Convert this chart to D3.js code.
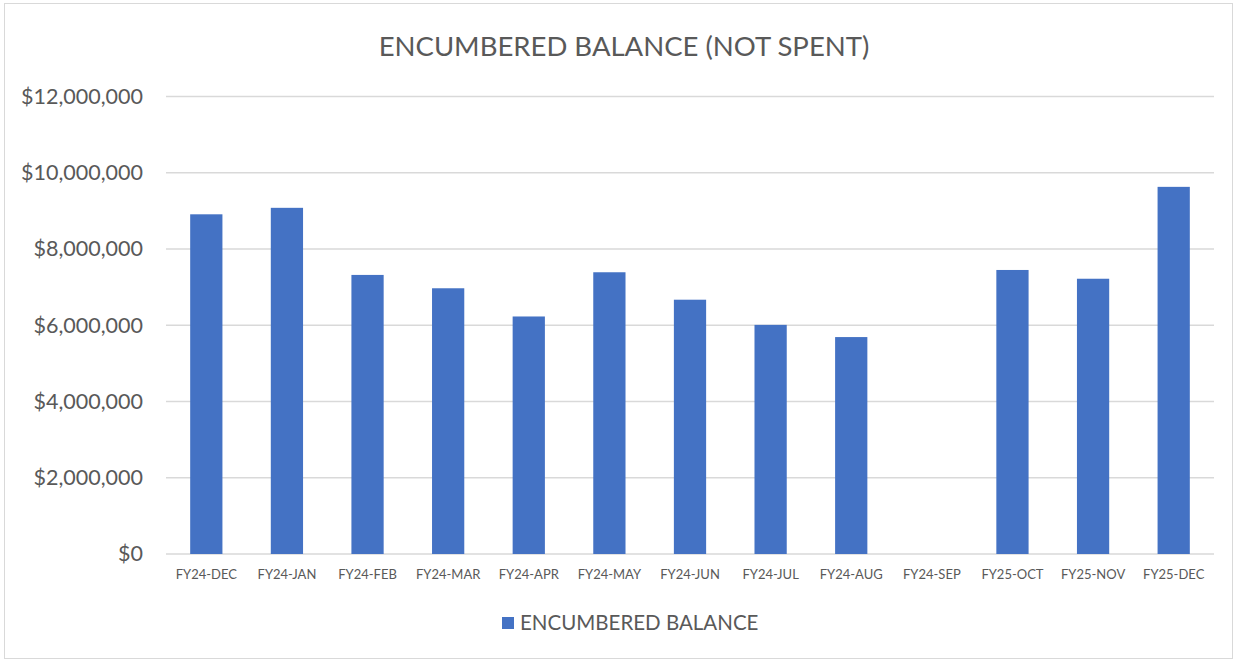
<!DOCTYPE html>
<html>
<head>
<meta charset="utf-8">
<script src="https://cdn.jsdelivr.net/npm/d3@7"></script>
<style>
  html, body { margin: 0; padding: 0; background: #fff; }
  svg { display: block; font-family: Lato, "Open Sans", sans-serif; }
</style>
</head>
<body>
<svg width="1237" height="662"></svg>
<script>
const MONTHS = [
  "FY24-DEC", "FY24-JAN", "FY24-FEB", "FY24-MAR", "FY24-APR", "FY24-MAY", "FY24-JUN",
  "FY24-JUL", "FY24-AUG", "FY24-SEP", "FY25-OCT", "FY25-NOV", "FY25-DEC",
];
const BALANCE = [
  8910000, 9080000, 7320000, 6970000, 6230000, 7390000, 6670000,
  6010000, 5690000, null, 7450000, 7220000, 9630000,
];
const Y_TICKS = [0, 2000000, 4000000, 6000000, 8000000, 10000000, 12000000];
const SERIES_NAME = "ENCUMBERED BALANCE";
const TITLE = "ENCUMBERED BALANCE (NOT SPENT)";

const BAR_COLOR = "#4472c4";
const TEXT_COLOR = "#595959";
const GRID_COLOR = "#d9d9d9";

const PLOT = { left: 166, right: 1214, top: 96.5, bottom: 554 };

const data = MONTHS.map((m, i) => ({ month: m, value: BALANCE[i] }));

const svg = d3.select("svg");

// chart border
svg.append("rect")
  .attr("x", 4.5).attr("y", 3.5)
  .attr("width", 1228).attr("height", 655)
  .attr("fill", "#fff")
  .attr("stroke", GRID_COLOR)
  .attr("stroke-width", 1);

const x = d3.scaleBand()
  .domain(MONTHS)
  .range([PLOT.left, PLOT.right])
  .paddingInner(0.6)
  .paddingOuter(0.3);

const y = d3.scaleLinear()
  .domain([0, 12000000])
  .range([PLOT.bottom, PLOT.top]);

// gridlines
svg.append("g")
  .selectAll("line")
  .data(Y_TICKS)
  .join("line")
  .attr("x1", PLOT.left)
  .attr("x2", PLOT.right)
  .attr("y1", (d) => y(d))
  .attr("y2", (d) => y(d))
  .attr("stroke", GRID_COLOR)
  .attr("stroke-width", 1.5);

// y axis labels
const fmt = d3.format("$,");
const yAxis = svg.append("g")
  .attr("transform", `translate(${PLOT.left - 23},0)`)
  .call(d3.axisLeft(y).tickValues(Y_TICKS).tickFormat(fmt).tickSize(0).tickPadding(0));
yAxis.select(".domain").remove();
yAxis.selectAll("text")
  .attr("fill", TEXT_COLOR)
  .style("font-size", "21.5px")
  .style("font-family", "Lato, sans-serif");

// bars
svg.append("g")
  .selectAll("rect")
  .data(data.filter((d) => d.value != null))
  .join("rect")
  .attr("x", (d) => x(d.month))
  .attr("width", x.bandwidth())
  .attr("y", (d) => y(d.value))
  .attr("height", (d) => y(0) - y(d.value))
  .attr("fill", BAR_COLOR);

// x axis labels
const xAxis = svg.append("g")
  .attr("transform", `translate(0,${PLOT.bottom})`)
  .call(d3.axisBottom(x).tickSize(0).tickPadding(16));
xAxis.select(".domain").remove();
xAxis.selectAll("text")
  .attr("fill", TEXT_COLOR)
  .style("font-size", "13px")
  .style("font-family", "Lato, sans-serif");

// title
svg.append("text")
  .attr("x", 624)
  .attr("y", 56)
  .attr("text-anchor", "middle")
  .attr("fill", TEXT_COLOR)
  .style("font-size", "27.5px")
  .text(TITLE);

// legend
const legend = svg.append("g").attr("transform", "translate(502,617)");
legend.append("rect")
  .attr("width", 12).attr("height", 12)
  .attr("fill", BAR_COLOR);
legend.append("text")
  .attr("x", 18)
  .attr("y", 13)
  .attr("fill", TEXT_COLOR)
  .style("font-size", "20.5px")
  .text(SERIES_NAME);
</script>
</body>
</html>
